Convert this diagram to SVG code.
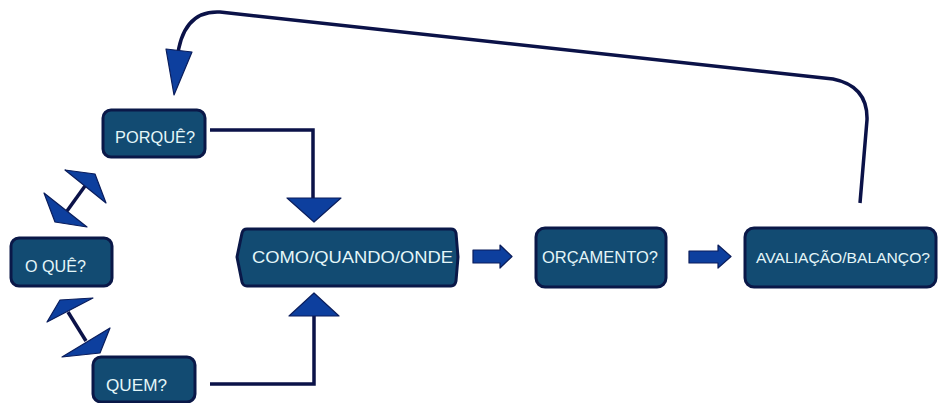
<svg xmlns="http://www.w3.org/2000/svg" width="938" height="403" viewBox="0 0 938 403">
<defs>
<style>
.box{fill:#124b72;stroke:#0a1848;stroke-width:3}
.t{fill:#e4f6f8;font-family:"Liberation Sans",Arial,sans-serif;font-size:17px}
.ln{fill:none;stroke:#0b1248;stroke-width:3.5;stroke-linejoin:miter}
.ah{fill:#0d3f9e;stroke:#0a1d5c;stroke-width:1.2;stroke-linejoin:round}
</style>
</defs>
<rect width="938" height="403" fill="#ffffff"/>
<g id="connectors">
<path class="ln" d="M860,203 L867,120 Q868,86 833,79 L220,12 Q182,10 177,60 L176,70"/>
<polygon class="ah" points="166,49 192,52 174,95"/>
<path class="ln" d="M210,130 L313,130 L313,200"/>
<polygon class="ah" points="287,198 341,198 314,222"/>
<path class="ln" d="M210,384 L314,384 L314,314"/>
<polygon class="ah" points="314,293 339,316 289,316"/>
<line class="ln" x1="85" y1="186" x2="67" y2="211" stroke-width="3"/>
<polygon class="ah" points="65,170 95,174 106,203"/>
<polygon class="ah" points="44,193 55,222 87,227"/>
<line class="ln" x1="68" y1="312" x2="86" y2="341" stroke-width="3"/>
<polygon class="ah" points="60,300 93,298 47,322"/>
<polygon class="ah" points="110,328 100,353 62,357"/>
<polygon class="ah" points="473,250 500,250 500,245 512,256.5 500,268 500,263 473,263"/>
<polygon class="ah" points="689,251 718,251 718,245 731,256.5 718,268 718,263 689,263"/>
</g>
<g id="porque">
<rect class="box" x="103" y="110" width="102" height="47" rx="8"/>
<text class="t" x="115" y="143" textLength="80" lengthAdjust="spacingAndGlyphs">PORQUÊ?</text>
</g>
<g id="oque">
<rect class="box" x="11" y="238" width="101" height="48" rx="8"/>
<text class="t" x="25" y="272" textLength="61" lengthAdjust="spacingAndGlyphs">O QUÊ?</text>
</g>
<g id="quem">
<rect class="box" x="93" y="357" width="102" height="45" rx="8"/>
<text class="t" x="106" y="391" textLength="61" lengthAdjust="spacingAndGlyphs">QUEM?</text>
</g>
<g id="como">
<path class="box" d="M247,229 L451,229 Q455,229 456,233 L458,257 L456,281 Q455,286 451,286 L247,286 Q243,286 242,282 L237,257 L242,233 Q243,229 247,229 Z"/>
<text class="t" x="252" y="263" textLength="201" lengthAdjust="spacingAndGlyphs">COMO/QUANDO/ONDE</text>
</g>
<g id="orcamento">
<rect class="box" x="536" y="228" width="130" height="59" rx="9"/>
<text class="t" x="542" y="263" textLength="116" lengthAdjust="spacingAndGlyphs">ORÇAMENTO?</text>
</g>
<g id="avaliacao">
<rect class="box" x="745" y="228" width="191" height="59" rx="9"/>
<text class="t" x="756" y="263" style="font-size:15.5px" textLength="174" lengthAdjust="spacingAndGlyphs">AVALIAÇÃO/BALANÇO?</text>
</g>
</svg>
